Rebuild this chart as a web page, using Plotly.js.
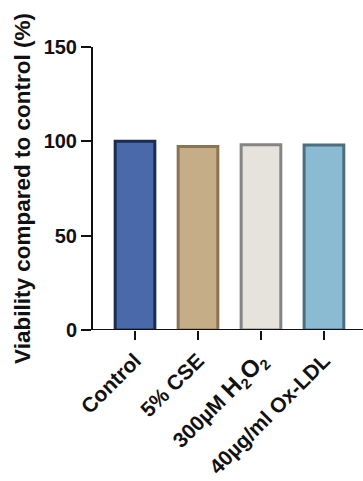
<!DOCTYPE html>
<html><head><meta charset="utf-8">
<script src="https://cdn.plot.ly/plotly-3.0.1.min.js"></script>
<style>html,body{margin:0;padding:0;background:#fff}#chart{width:363px;height:481px}</style>
</head><body><div id="chart"></div>
<script>
const categories = ['Control', '5% CSE', '300µM H2O2', '40µg/ml Ox-LDL'];
const tickLabels = ['Control', '5% CSE', '300µM <span style="font-size:24px">H</span><sub>2</sub><span style="font-size:24px">O</span><sub>2</sub>', '40µg/ml Ox-LDL'];
const viability = [100, 97.3, 98.2, 98];
const fillColors = ['#4a69aa', '#c4ad87', '#e6e2dc', '#8bbbd3'];
const lineColors = ['#1d2c52', '#8a7550', '#858585', '#4b6f80'];

const trace = {
  type: 'bar',
  x: [0, 1, 2, 3],
  y: viability,
  width: 0.63,
  marker: {color: fillColors, line: {color: lineColors, width: 3}},
  hoverinfo: 'none'
};
const font = {family: '"Liberation Sans", Arial, sans-serif', color: '#111', size: 20};
const layout = {
  width: 363, height: 481,
  margin: {l: 93, r: 0, t: 47, b: 151},
  paper_bgcolor: '#fff', plot_bgcolor: '#fff',
  showlegend: false,
  font: font,
  xaxis: {
    range: [-0.667, 3.62],
    tickmode: 'array', tickvals: [0, 1, 2, 3], ticktext: tickLabels.map(t => '<b>' + t + '</b>'),
    tickangle: -45, ticks: 'outside', ticklen: 9, tickwidth: 2, tickcolor: '#111',
    showline: false, showgrid: false, zeroline: false,
    tickfont: {family: font.family, size: 21, color: '#111'}
  },
  yaxis: {
    range: [0, 150], tickvals: [0, 50, 100, 150], ticktext: ['<b>0</b>','<b>50</b>','<b>100</b>','<b>150</b>'],
    ticks: 'outside', ticklen: 10, tickwidth: 2, tickcolor: '#111',
    showline: true, linewidth: 2, linecolor: '#111', showgrid: false, zeroline: false,
    tickfont: {family: font.family, size: 20, color: '#111'},
    title: {text: '<b>Viability compared to control (%)</b>', font: {family: font.family, size: 22.5, color: '#111'}, standoff: 7}
  },
  shapes: [{type: 'line', xref: 'paper', yref: 'y', x0: -0.036, x1: 1, y0: 0, y1: 0, line: {color: '#111', width: 2}}]
};
Plotly.newPlot('chart', [trace], layout, {staticPlot: true, displayModeBar: false});
</script></body></html>
